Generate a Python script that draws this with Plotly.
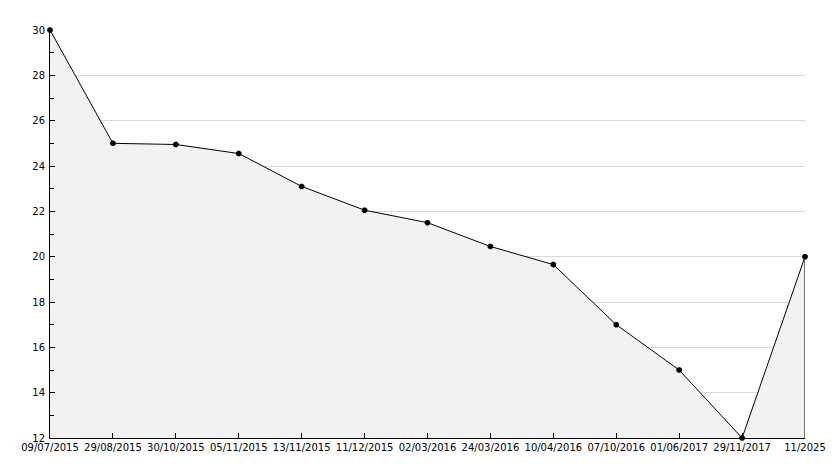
import plotly.graph_objects as go

dates = ["09/07/2015", "29/08/2015", "30/10/2015", "05/11/2015", "13/11/2015",
         "11/12/2015", "02/03/2016", "24/03/2016", "10/04/2016", "07/10/2016",
         "01/06/2017", "29/11/2017", "11/2025"]
values = [30, 25, 24.95, 24.55, 23.1, 22.05, 21.5, 20.45, 19.65, 17, 15, 12, 20]
y_min, y_max = 12, 30
y_ticks = list(range(12, 31, 2))

idx = list(range(len(dates)))

fig = go.Figure()
fig.add_trace(go.Scatter(
    x=idx, y=values, mode="lines+markers",
    fill="tozeroy", fillcolor="#f2f2f2",
    line=dict(color="black", width=1),
    marker=dict(symbol="octagon", size=6, color="black"),
    cliponaxis=False, hoverinfo="skip", showlegend=False,
))
# right closing edge of the filled area
fig.add_trace(go.Scatter(
    x=[idx[-1], idx[-1]], y=[values[-1], y_min], mode="lines",
    line=dict(color="black", width=1), cliponaxis=False,
    hoverinfo="skip", showlegend=False,
))

font = dict(family="DejaVu Sans", size=10, color="black")
fig.update_layout(
    width=834, height=468,
    margin=dict(l=42, r=37, t=22, b=38),
    plot_bgcolor="white", paper_bgcolor="white",
    font=font,
    xaxis=dict(
        range=[0, len(dates) - 1], tickmode="array", tickvals=idx, ticktext=dates,
        showgrid=False, zeroline=False, showline=True, linecolor="black", linewidth=1,
        ticks="inside", ticklen=5, tickcolor="black", tickfont=font, automargin=False,
    ),
    yaxis=dict(
        range=[y_min, y_max], tickmode="array", tickvals=y_ticks,
        showgrid=True, gridcolor="#d9d9d9", gridwidth=1, zeroline=False,
        showline=True, linecolor="black", linewidth=1,
        ticks="inside", ticklen=5, tickcolor="black", tickfont=font, automargin=False,
        ticklabelstandoff=2,
        minor=dict(dtick=1, ticks="inside", ticklen=4, tickcolor="black", showgrid=False),
    ),
)

fig.write_html("out.html")
